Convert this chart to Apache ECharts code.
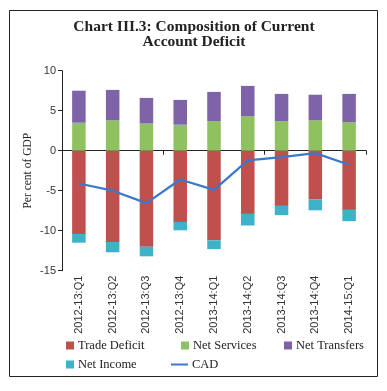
<!DOCTYPE html>
<html><head><meta charset="utf-8">
<script src="https://cdn.jsdelivr.net/npm/echarts@6/dist/echarts.min.js"></script>
<style>html,body{margin:0;padding:0;background:#fff}#c{width:387px;height:391px}</style>
</head><body><div id="c"></div>
<script>
var categories = ['2012-13:Q1','2012-13:Q2','2012-13:Q3','2012-13:Q4','2013-14:Q1','2013-14:Q2','2013-14:Q3','2013-14:Q4','2014-15:Q1'];
var tradeDeficit = [-10.4, -11.4, -12.0, -8.9, -11.2, -7.9, -6.9, -6.1, -7.4];
var netServices  = [3.5, 3.8, 3.4, 3.25, 3.7, 4.3, 3.7, 3.8, 3.55];
var netTransfers = [4.0, 3.8, 3.2, 3.1, 3.65, 3.8, 3.4, 3.2, 3.55];
var netIncome    = [-1.1, -1.3, -1.2, -1.05, -1.1, -1.45, -1.15, -1.35, -1.4];
var cad          = [-4.1, -5.0, -6.55, -3.6, -4.9, -1.2, -0.8, -0.3, -1.75];
var yTicks = [-15, -10, -5, 0, 5, 10];

var serif = '"Liberation Serif", "DejaVu Serif", serif';
var sans = '"Liberation Sans", Arial, sans-serif';
var colors = {trade:'#c0504d', services:'#8fc160', transfers:'#7f63a8', income:'#3eb2c8', cad:'#3a78cc'};

function legend(name, left, top, icon) {
  return {
    data: [name], left: left, top: top, orient: 'horizontal',
    itemWidth: icon === 'line' ? 17 : 8, itemHeight: icon === 'line' ? 2 : 8,
    itemGap: 0, padding: 0,
    textStyle: {fontFamily: serif, fontSize: 12.5, color: '#222', padding: [0,0,0,-1]},
    icon: 'rect'
  };
}

var chart = echarts.init(document.getElementById('c'), null, {renderer: 'canvas'});
chart.setOption({
  animation: false,
  backgroundColor: '#fff',
  graphic: [
    {type: 'rect', shape: {x: 9.5, y: 10.5, width: 368, height: 366}, style: {fill: 'none', stroke: '#222', lineWidth: 1}},
    {type: 'text', x: 194, y: 19, style: {text: 'Chart III.3: Composition of Current\nAccount Deficit', fontFamily: serif, fontWeight: 'bold', fontSize: 15.5, lineHeight: 15, fill: '#222', textAlign: 'center', align: 'center'}}
  ],
  grid: {left: 62, right: 21, top: 70.7, bottom: 120.3, containLabel: false},
  legend: [
    legend('Trade Deficit', 66, 339),
    legend('Net Services', 181, 339),
    legend('Net Transfers', 284, 339),
    legend('Net Income', 66, 358),
    legend('CAD', 171, 358, 'line')
  ],
  xAxis: [
    {type: 'category', data: categories, position: 'bottom',
     axisLine: {onZero: true, lineStyle: {color: '#222', width: 1.2}},
     axisTick: {show: true, length: 4, inside: false, lineStyle: {color: '#222'}},
     axisLabel: {show: false}, splitLine: {show: false}},
    {type: 'category', data: categories, position: 'bottom', gridIndex: 0,
     axisLine: {show: false, onZero: false}, axisTick: {show: false},
     axisLabel: {show: true, rotate: 90, interval: 0, margin: 5, fontFamily: sans, fontSize: 11, color: '#333'}}
  ],
  yAxis: {type: 'value', min: -15, max: 10, interval: 5,
    name: 'Per cent of GDP', nameLocation: 'middle', nameGap: 28, nameRotate: 90, nameMoveOverlap: false,
    nameTextStyle: {fontFamily: serif, fontSize: 11.5, color: '#222'},
    axisLine: {show: true, lineStyle: {color: '#222'}},
    axisTick: {show: true, length: 4, lineStyle: {color: '#222'}},
    axisLabel: {fontFamily: sans, fontSize: 11, color: '#333', margin: 6,
      formatter: function (v) { return yTicks.indexOf(v) >= 0 ? String(v) : ''; }},
    splitLine: {show: false}},
  series: [
    {name: 'Trade Deficit', type: 'bar', stack: 'a', data: tradeDeficit, barWidth: '40%', itemStyle: {color: colors.trade}},
    {name: 'Net Services', type: 'bar', stack: 'a', data: netServices, itemStyle: {color: colors.services}},
    {name: 'Net Transfers', type: 'bar', stack: 'a', data: netTransfers, itemStyle: {color: colors.transfers}},
    {name: 'Net Income', type: 'bar', stack: 'a', data: netIncome, itemStyle: {color: colors.income}},
    {name: 'CAD', type: 'line', data: cad, showSymbol: false, symbol: 'none', lineStyle: {color: colors.cad, width: 2.2}, itemStyle: {color: colors.cad}, z: 5}
  ]
});
</script></body></html>
